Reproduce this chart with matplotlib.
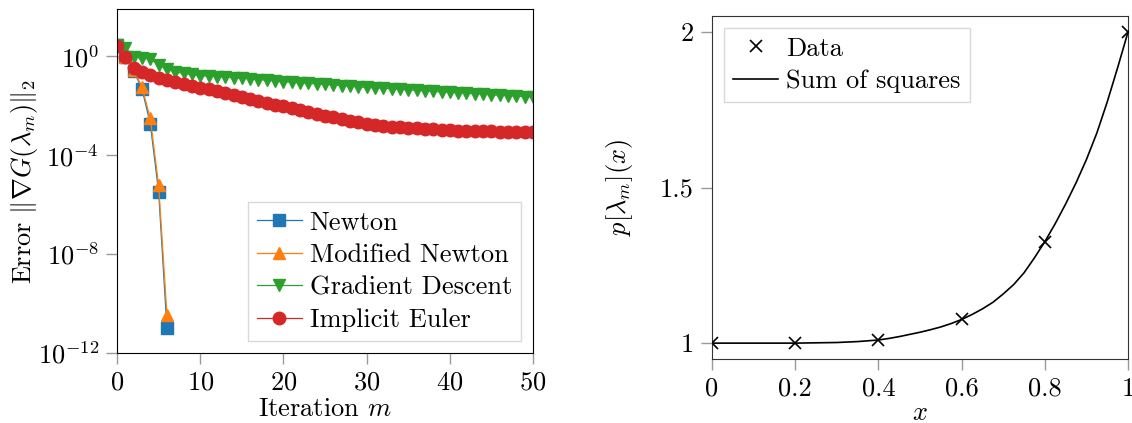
import numpy as np
import matplotlib
matplotlib.use("Agg")
import matplotlib.pyplot as plt

plt.rcParams.update({
    "font.family": "serif",
    "font.serif": ["cmr10"],
    "mathtext.fontset": "cm",
    "axes.formatter.use_mathtext": True,
    "font.size": 19,
})

# left panel: error vs. iteration
m_newton = [0, 1, 2, 3, 4, 5, 6]
err_newton = [2.8, 0.9, 0.25, 0.047, 1.8e-3, 3.2e-6, 1.0e-11]
err_modnewton = [2.8, 0.9, 0.28, 0.056, 3.0e-3, 6.0e-6, 3.5e-11]

m_long = list(range(51))
err_gd = [2.8, 2.1, 0.92, 0.83, 0.76, 0.44, 0.30, 0.23, 0.20, 0.18,
          0.16, 0.155, 0.148, 0.14, 0.133, 0.127, 0.12, 0.113, 0.105, 0.097,
          0.090, 0.087, 0.083, 0.079, 0.075, 0.071, 0.068, 0.064, 0.061, 0.057,
          0.054, 0.052, 0.050, 0.048, 0.045, 0.043, 0.041, 0.039, 0.037, 0.036,
          0.034, 0.033, 0.031, 0.030, 0.029, 0.027, 0.026, 0.025, 0.024, 0.023,
          0.022]
err_ie = [2.6, 0.9, 0.33, 0.23, 0.17, 0.13, 0.11, 0.09, 0.075, 0.062,
          0.052, 0.045, 0.038, 0.032, 0.027, 0.022, 0.019, 0.016, 0.013, 0.011,
          0.0092, 0.0078, 0.0066, 0.0056, 0.0047, 0.0039, 0.0033, 0.0028, 0.0024, 0.0021,
          0.0018, 0.0016, 0.0015, 0.0014, 0.0013, 0.00125, 0.0012, 0.00115, 0.0011, 0.00105,
          0.0010, 0.00098, 0.00096, 0.00094, 0.00092, 0.0009, 0.00088, 0.00087, 0.00086, 0.00085,
          0.00084]

# right panel: data points and fitted curve
x_data = [0, 0.2, 0.4, 0.6, 0.8, 1.0]
p_data = [1.0, 1.0, 1.01, 1.077, 1.325, 2.0]

x_fit = [0, 0.1, 0.2, 0.25, 0.3, 0.35, 0.4, 0.425, 0.45, 0.475,
         0.5, 0.525, 0.55, 0.575, 0.6, 0.625, 0.65, 0.675, 0.7, 0.725, 0.75,
         0.775, 0.8, 0.825, 0.85, 0.875, 0.9, 0.925, 0.95, 0.975, 1.0]
p_fit = [1.0, 1.0, 1.0, 1.001, 1.002, 1.005, 1.010, 1.015, 1.021, 1.028,
         1.035, 1.043, 1.052, 1.063, 1.076, 1.092, 1.110, 1.131, 1.158, 1.188, 1.226,
         1.274, 1.326, 1.384, 1.447, 1.515, 1.59, 1.675, 1.775, 1.885, 2.0]

fig = plt.figure(figsize=(11.32, 4.23), dpi=100)
ax1 = fig.add_axes([0.1034, 0.1655, 0.3675, 0.8125])
ax2 = fig.add_axes([0.629, 0.1513, 0.3675, 0.8116])

ax1.semilogy(m_newton, err_newton, "-s", color="tab:blue", lw=0.9, ms=8, label="Newton")
ax1.semilogy(m_newton, err_modnewton, "-^", color="tab:orange", lw=0.9, ms=8, label="Modified Newton")
ax1.semilogy(m_long, err_gd, "-v", color="tab:green", lw=0.9, ms=8, label="Gradient Descent")
ax1.semilogy(m_long, err_ie, "-o", color="tab:red", lw=0.9, ms=9, label="Implicit Euler")
ax1.set_xlim(0, 50)
ax1.set_ylim(1e-12, 10**1.89)
ax1.set_yticks([1e0, 1e-4, 1e-8, 1e-12])
ax1.minorticks_off()
ax1.set_xticks([0, 10, 20, 30, 40, 50])
ax1.set_xlabel(r"Iteration $m$", labelpad=2)
ax1.set_ylabel(r"Error $\|\nabla G(\lambda_m)\|_2$", labelpad=-2)
ax1.legend(loc="lower right", fancybox=False, edgecolor="0.85", framealpha=1,
           borderpad=0.35, labelspacing=0.33, handlelength=1.7, handletextpad=0.3,
           borderaxespad=0.45)

ax2.plot(x_data, p_data, "x", color="black", ms=9, mew=1.2, label="Data", zorder=3)
ax2.plot(x_fit, p_fit, "-", color="black", lw=1.2, label="Sum of squares")
ax2.set_xlim(0, 1)
ax2.set_ylim(0.949, 2.052)
ax2.set_xticks([0, 0.2, 0.4, 0.6, 0.8, 1])
ax2.set_xticklabels(["0", "0.2", "0.4", "0.6", "0.8", "1"])
ax2.set_yticks([1, 1.5, 2])
ax2.set_yticklabels(["1", "1.5", "2"])
ax2.set_xlabel(r"$x$", labelpad=0)
ax2.set_ylabel(r"$p[\lambda_m](x)$", labelpad=18)
ax2.legend(loc="upper left", fancybox=False, edgecolor="0.85", framealpha=1,
           borderpad=0.35, labelspacing=0.33, handlelength=1.7, handletextpad=0.3,
           borderaxespad=0.45)
for sp in ax2.spines.values():
    sp.set_color("0.2")

for ax in (ax1, ax2):
    ax.tick_params(direction="out", length=8, width=1, color="0.6", pad=5)

fig.savefig("out.png", dpi=100)
